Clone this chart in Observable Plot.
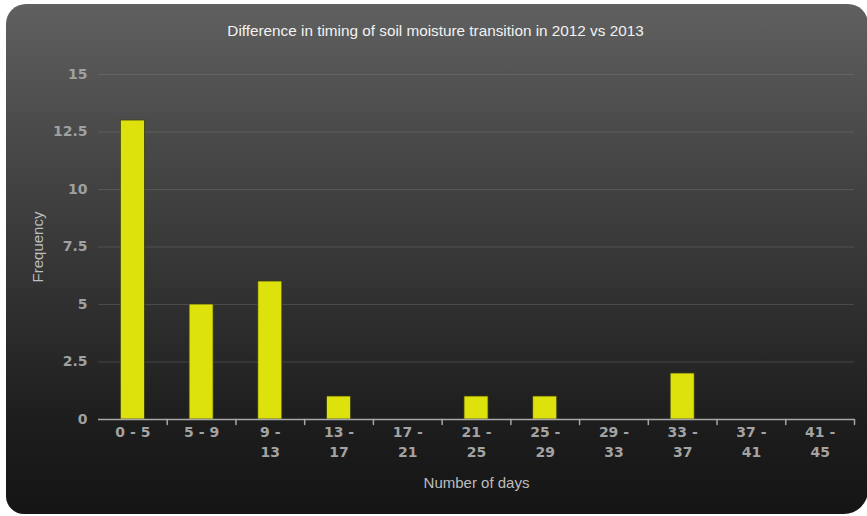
<!DOCTYPE html>
<html>
<head>
<meta charset="utf-8">
<script src="https://cdn.jsdelivr.net/npm/d3@7"></script>
<script src="https://cdn.jsdelivr.net/npm/@observablehq/plot@0.6"></script>
<style>
  html, body { margin: 0; padding: 0; background: #ffffff; }
  #wrap { position: relative; width: 867px; height: 516px; overflow: hidden; }
  #card {
    position: absolute; left: 6px; top: 4px; width: 862px; height: 510px;
    border-radius: 20px 20px 24px 18px;
    background: linear-gradient(to bottom, #606060 0%, #4a4a4a 25%, #333333 55%, #1d1d1d 82%, #151515 100%);
  }
  #chart { position: absolute; left: 0; top: 0; }
</style>
</head>
<body>
<div id="wrap"><div id="card"></div><div id="chart"></div></div>
<script>
const bins = ["0 - 5", "5 - 9", "9 - 13", "13 - 17", "17 - 21", "21 - 25", "25 - 29", "29 - 33", "33 - 37", "37 - 41", "41 - 45"];
const frequency = [13, 5, 6, 1, 0, 1, 1, 0, 2, 0, 0];
const yTicks = [0, 2.5, 5, 7.5, 10, 12.5, 15];
const titleText = "Difference in timing of soil moisture transition in 2012 vs 2013";
const xLabel = "Number of days";
const yLabel = "Frequency";

const data = bins.map((b, i) => ({bin: b, freq: frequency[i]}));
const W = 867, ML = 98, MR = 13;
const step = (W - ML - MR) / bins.length;

const tickShape = {draw(ctx, l) { ctx.moveTo(0, 0); ctx.lineTo(0, -l); }};

const chart = Plot.plot({
  width: W, height: 516,
  marginLeft: ML, marginRight: MR, marginTop: 74, marginBottom: 97,
  style: {background: "transparent", fontFamily: "'DejaVu Sans', Verdana, sans-serif", fontSize: "14px", color: "#a3a3a3", overflow: "visible"},
  x: {domain: bins, paddingInner: 0.65, paddingOuter: 0.325, round: false},
  y: {domain: [0, 15]},
  marks: [
    Plot.gridY(yTicks.filter(d => d > 0), {stroke: "#8a8a8a", strokeOpacity: 0.3, strokeWidth: 1}),
    Plot.barY(data, {x: "bin", y: "freq", fill: "#dde20c", stroke: "#3c3c12", strokeWidth: 0.8}),
    Plot.ruleY([0], {stroke: "#a8a8a8", strokeWidth: 1.5}),
    Plot.vector(bins.slice(1), {x: d => d, y: 0, length: 5, rotate: 180, anchor: "start", dx: -step / 2, stroke: "#a8a8a8", strokeWidth: 1.5, shape: tickShape}),
    Plot.vector([bins[bins.length - 1]], {x: d => d, y: 0, length: 5, rotate: 180, anchor: "start", dx: step / 2, stroke: "#a8a8a8", strokeWidth: 1.5, shape: tickShape}),
    Plot.axisY({ticks: yTicks, tickSize: 0, tickPadding: 11, label: null, fontWeight: "bold", fill: "#a0a0a0", tickFormat: d => String(d)}),
    Plot.axisX({tickSize: 0, tickPadding: 4, label: null, fontWeight: "bold", fill: "#a3a3a3", lineHeight: 1.38,
      tickFormat: d => d.length > 5 ? d.replace(" - ", " -\n") : d}),
    Plot.text([titleText], {text: d => d, frameAnchor: "top", dx: -41, dy: -43, lineAnchor: "middle", fill: "#f2f2f2", fontSize: 15.3, fontFamily: "'Liberation Sans', Arial, sans-serif", fontWeight: "normal"}),
    Plot.text([xLabel], {text: d => d, frameAnchor: "bottom", dy: 64, lineAnchor: "middle", fill: "#bdbdbd", fontSize: 15, fontFamily: "'Liberation Sans', Arial, sans-serif", fontWeight: "normal"}),
    Plot.text([yLabel], {text: d => d, frameAnchor: "left", dx: -60, rotate: -90, textAnchor: "middle", fill: "#bdbdbd", fontSize: 15, fontFamily: "'Liberation Sans', Arial, sans-serif", fontWeight: "normal"})
  ]
});
document.getElementById("chart").appendChild(chart);
</script>
</body>
</html>
